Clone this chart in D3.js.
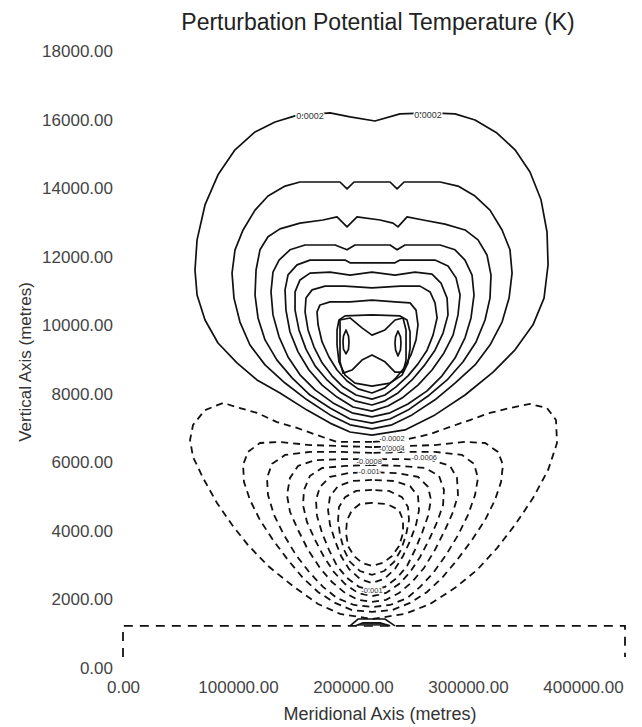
<!DOCTYPE html>
<html>
<head>
	<script src="https://d3js.org/d3.v7.min.js"></script>
	<style>
		body { margin: 0; background: #fff; }
	</style>
</head>
<body>
<script type="text/javascript">

	// tick values (metres)
	var xTicks = [0, 100000, 200000, 300000, 400000];
	var yTicks = [0, 2000, 4000, 6000, 8000, 10000, 12000, 14000, 16000, 18000];

	// positive contours, [meridional km, vertical km], outer to inner
	var positiveContours = [
		[[216.5,6.80],[197.4,6.89],[180.0,7.15],[160.0,7.53],[136.5,8.03],[116.5,8.41],[99.1,8.91],[82.6,9.49],[71.3,10.16],[64.4,10.89],[62.6,11.62],[64.4,12.50],[71.3,13.52],[82.6,14.40],[97.4,15.13],[114.8,15.65],[132.2,15.94],[149.6,16.12],[180.0,16.21],[197.4,16.09],[219.1,15.97],[240.9,16.18],[267.0,16.21],[288.7,16.18],[306.1,16.00],[325.2,15.62],[340.9,15.13],[353.9,14.48],[363.5,13.67],[368.7,12.73],[369.6,11.77],[366.1,10.80],[356.5,10.02],[340.9,9.29],[321.8,8.64],[297.4,7.97],[271.3,7.39],[245.2,6.95]],
		[[216.5,6.98],[197.4,7.10],[180.0,7.39],[160.0,7.83],[140.9,8.32],[123.5,8.85],[110.4,9.43],[101.7,10.10],[96.5,10.80],[94.8,11.53],[97.4,12.21],[104.4,12.79],[114.8,13.37],[126.1,13.78],[140.9,14.07],[153.9,14.19],[188.7,14.19],[194.8,13.99],[200.9,14.19],[232.2,14.19],[238.3,13.99],[244.4,14.19],[275.7,14.19],[291.3,14.07],[306.1,13.78],[319.1,13.37],[329.6,12.79],[336.5,12.21],[338.3,11.53],[335.7,10.80],[329.6,10.10],[319.1,9.43],[306.1,8.85],[288.7,8.32],[271.3,7.83],[251.3,7.39],[233.9,7.10]],
		[[216.5,7.15],[197.4,7.27],[180.0,7.59],[162.6,7.97],[147.0,8.47],[133.9,8.99],[123.5,9.58],[117.4,10.22],[114.8,10.89],[115.7,11.62],[119.1,12.21],[126.1,12.59],[136.5,12.82],[153.9,12.99],[173.9,13.08],[186.1,13.17],[194.8,12.88],[203.5,13.17],[223.5,13.08],[234.8,12.99],[239.1,12.88],[247.0,13.17],[260.9,13.08],[280.0,12.96],[297.4,12.79],[308.7,12.50],[316.5,12.06],[320.0,11.47],[319.1,10.80],[314.8,10.16],[307.0,9.52],[295.7,8.94],[281.8,8.41],[265.2,7.94],[247.8,7.53],[232.2,7.27]],
		[[216.5,7.33],[199.1,7.45],[182.6,7.74],[167.0,8.12],[153.9,8.56],[143.5,9.08],[135.7,9.67],[130.4,10.31],[128.7,10.98],[130.4,11.56],[135.7,11.91],[145.2,12.21],[158.3,12.35],[184.4,12.35],[194.8,12.21],[201.7,12.35],[232.2,12.35],[238.3,12.21],[245.2,12.35],[275.7,12.35],[288.7,12.21],[297.4,11.91],[303.5,11.47],[305.2,10.89],[302.6,10.22],[297.4,9.64],[288.7,9.05],[277.4,8.53],[264.4,8.09],[247.8,7.71],[232.2,7.45]],
		[[216.5,7.50],[200.0,7.62],[186.1,7.91],[173.1,8.26],[161.7,8.70],[152.2,9.23],[145.2,9.81],[141.7,10.45],[140.9,11.04],[143.5,11.48],[151.3,11.77],[162.6,11.91],[193.1,11.91],[197.4,11.83],[236.5,11.83],[240.9,11.91],[271.3,11.91],[282.6,11.74],[289.6,11.39],[293.1,10.89],[291.3,10.31],[287.0,9.72],[279.1,9.20],[268.7,8.70],[256.5,8.26],[242.6,7.88],[230.4,7.65]],
		[[216.5,7.68],[201.7,7.80],[188.7,8.06],[177.4,8.41],[167.0,8.82],[159.1,9.31],[153.0,9.87],[149.6,10.45],[149.6,10.98],[153.9,11.33],[162.6,11.53],[180.0,11.56],[197.4,11.47],[216.5,11.56],[236.5,11.47],[253.9,11.56],[268.7,11.50],[276.5,11.24],[281.8,10.80],[282.6,10.31],[278.3,9.78],[271.3,9.28],[261.7,8.82],[251.3,8.41],[239.1,8.03],[227.8,7.80]],
		[[216.5,7.85],[202.6,7.97],[191.3,8.21],[181.7,8.53],[173.1,8.91],[166.1,9.37],[160.9,9.87],[158.3,10.40],[159.1,10.80],[164.4,11.04],[175.7,11.15],[193.1,11.15],[216.5,11.10],[240.9,11.15],[258.3,11.15],[267.0,10.98],[271.3,10.66],[273.1,10.22],[269.6,9.72],[264.4,9.28],[256.5,8.88],[247.8,8.53],[237.4,8.21],[227.8,7.97]],
		[[216.5,8.03],[204.4,8.15],[194.8,8.38],[186.1,8.70],[179.1,9.08],[173.1,9.52],[169.6,10.02],[168.7,10.40],[171.3,10.60],[180.0,10.69],[197.4,10.69],[216.5,10.74],[236.5,10.69],[249.6,10.66],[254.8,10.45],[256.5,10.02],[254.8,9.58],[250.4,9.14],[244.4,8.76],[236.5,8.44],[227.8,8.18]],
		[[216.5,8.23],[201.7,8.32],[193.1,8.55],[187.8,8.94],[186.1,9.43],[186.1,9.87],[187.8,10.16],[193.1,10.28],[216.5,10.31],[240.9,10.28],[247.0,10.16],[249.6,9.81],[249.6,9.34],[247.8,8.91],[242.6,8.55],[232.2,8.32]],
		[[188.7,10.16],[197.4,10.22],[207.8,9.93],[216.5,9.72],[227.8,9.87],[236.5,10.16],[243.5,10.22],[246.1,9.87],[246.1,8.99],[243.5,8.64],[236.5,8.64],[227.8,8.94],[216.5,9.14],[207.8,8.99],[199.1,8.70],[191.3,8.61],[188.7,8.94],[188.7,9.87]],
		[[193.9,9.87],[196.1,9.69],[196.5,9.52],[196.1,9.31],[193.9,9.17],[191.7,9.31],[191.3,9.52],[191.7,9.69]],
		[[239.1,9.84],[241.3,9.67],[241.7,9.49],[241.3,9.29],[239.1,9.11],[237.0,9.29],[236.5,9.49],[237.0,9.67]]
	];

	// negative contours (dashed), outer to inner
	var negativeContours = [
		[[216.5,6.60],[186.1,6.60],[168.7,6.80],[151.3,7.01],[133.9,7.18],[116.5,7.45],[101.7,7.59],[87.0,7.74],[71.3,7.53],[60.9,7.10],[58.3,6.66],[60.9,6.16],[69.6,5.55],[81.7,4.82],[94.8,4.18],[108.7,3.59],[126.1,2.98],[147.8,2.39],[169.6,1.87],[188.7,1.58],[216.5,1.43],[245.2,1.58],[267.0,1.87],[288.7,2.34],[307.8,2.86],[325.2,3.50],[340.9,4.18],[356.5,4.96],[369.6,5.78],[377.4,6.57],[376.5,7.24],[368.7,7.59],[353.9,7.71],[336.5,7.59],[319.1,7.45],[301.7,7.24],[284.4,7.04],[267.0,6.83],[245.2,6.66]],
		[[216.5,6.45],[188.7,6.48],[162.6,6.51],[136.5,6.60],[119.1,6.57],[108.7,6.31],[104.4,5.93],[105.2,5.43],[110.4,4.91],[119.1,4.32],[130.4,3.74],[143.5,3.15],[156.5,2.63],[169.6,2.22],[184.4,1.90],[199.1,1.69],[216.5,1.64],[233.9,1.69],[249.6,1.90],[264.4,2.22],[277.4,2.63],[290.4,3.15],[303.5,3.74],[314.8,4.32],[323.5,4.91],[328.7,5.43],[330.4,5.93],[326.1,6.31],[314.8,6.57],[297.4,6.60],[271.3,6.51],[245.2,6.48]],
		[[216.5,6.28],[188.7,6.31],[162.6,6.31],[140.9,6.22],[129.6,5.96],[125.2,5.55],[126.1,5.05],[131.3,4.47],[140.0,3.88],[150.4,3.30],[162.6,2.77],[173.9,2.37],[186.1,2.04],[200.9,1.84],[216.5,1.78],[232.2,1.84],[247.0,2.04],[258.3,2.37],[269.6,2.77],[280.9,3.30],[291.3,3.88],[300.0,4.47],[306.1,5.05],[308.7,5.55],[305.2,5.96],[294.8,6.22],[271.3,6.31],[245.2,6.31]],
		[[216.5,6.10],[193.1,6.10],[167.0,6.07],[152.2,5.90],[145.2,5.55],[142.6,5.05],[145.2,4.56],[152.2,4.03],[160.9,3.45],[171.3,2.92],[181.7,2.51],[193.1,2.19],[204.4,1.99],[216.5,1.93],[228.7,1.99],[240.0,2.19],[251.3,2.51],[261.7,2.92],[271.3,3.45],[280.0,4.03],[287.0,4.56],[291.3,5.05],[290.4,5.55],[284.4,5.90],[268.7,6.07],[240.9,6.10]],
		[[216.5,5.93],[193.1,5.90],[173.1,5.84],[162.6,5.61],[157.4,5.20],[156.5,4.76],[160.0,4.26],[167.0,3.74],[174.8,3.24],[183.5,2.80],[193.1,2.45],[204.4,2.19],[216.5,2.10],[228.7,2.19],[240.0,2.45],[249.6,2.80],[258.3,3.24],[266.1,3.74],[273.1,4.26],[278.3,4.76],[279.1,5.20],[274.8,5.61],[262.6,5.84],[240.9,5.90]],
		[[216.5,5.72],[195.7,5.69],[180.0,5.58],[171.3,5.29],[167.8,4.91],[168.7,4.44],[173.1,3.94],[179.1,3.45],[186.1,2.98],[194.8,2.63],[205.2,2.37],[216.5,2.28],[227.8,2.37],[238.3,2.63],[247.0,2.98],[253.9,3.45],[260.0,3.94],[265.2,4.44],[267.8,4.91],[265.2,5.29],[256.5,5.58],[239.1,5.69]],
		[[216.5,5.49],[199.1,5.46],[187.0,5.31],[180.0,5.02],[178.3,4.61],[180.0,4.18],[184.4,3.71],[189.6,3.27],[196.5,2.89],[206.1,2.60],[216.5,2.48],[227.0,2.60],[236.5,2.89],[243.5,3.27],[249.6,3.71],[254.8,4.18],[257.4,4.61],[256.5,5.02],[249.6,5.31],[235.7,5.46]],
		[[216.5,5.20],[202.6,5.17],[193.1,4.99],[187.8,4.70],[187.0,4.32],[188.7,3.88],[192.2,3.45],[197.4,3.10],[206.1,2.83],[216.5,2.72],[227.0,2.83],[235.7,3.10],[241.7,3.45],[246.1,3.88],[248.7,4.32],[247.8,4.70],[242.6,4.99],[231.3,5.17]],
		[[216.5,4.82],[206.1,4.79],[199.1,4.61],[194.8,4.32],[193.9,3.94],[195.7,3.56],[200.9,3.27],[207.8,3.07],[216.5,2.98],[226.1,3.07],[233.9,3.27],[240.0,3.56],[243.5,3.94],[243.5,4.32],[240.0,4.61],[229.6,4.79]]
	];

	// contour along the lower boundary and the small hill at the centre
	var groundLine = [[0,0.32],[0,1.23],[436.5,1.23],[436.5,0.32]];
	var hillOuter = [[197.4,1.23],[204.4,1.43],[227.8,1.43],[236.5,1.23]];
	var hillInner = [[201.7,1.23],[208.7,1.32],[223.5,1.32],[232.2,1.23]];

	// contour labels: [km, km, text]
	var contourLabels = [
		[162.6, 16.12, "0.0002"],
		[265.2, 16.15, "0.0002"],
		[233.9, 6.70, "-0.0002"],
		[233.9, 6.41, "-0.0004"],
		[262.0, 6.14, "-0.0006"],
		[214.0, 6.03, "-0.0008"],
		[214.0, 5.74, "-0.001"],
		[216.5, 2.28, "-0.001"]
	];

	var w = 642;
	var h = 727;
	var font = "'Liberation Sans', Arial, sans-serif";

	var svg = d3.select("body")
		.append("svg")
		.attr("width", w)
		.attr("height", h);

	// scales, metres to pixels
	var xScale = d3.scaleLinear()
		.domain([0, 436500])
		.range([123, 625]);

	var yScale = d3.scaleLinear()
		.domain([0, 18000])
		.range([668, 51.5]);

	var path = d3.line()
		.x(function(d) { return xScale(d[0] * 1000); })
		.y(function(d) { return yScale(d[1] * 1000); });

	var loop = d3.line()
		.curve(d3.curveLinearClosed)
		.x(function(d) { return xScale(d[0] * 1000); })
		.y(function(d) { return yScale(d[1] * 1000); });

	// solid contours
	svg.append("g")
		.selectAll("path")
		.data(positiveContours)
		.enter()
		.append("path")
		.attr("d", loop)
		.attr("fill", "none")
		.attr("stroke", "#111")
		.attr("stroke-width", 1.7)
		.attr("stroke-linejoin", "round");

	// dashed contours
	svg.append("g")
		.selectAll("path")
		.data(negativeContours)
		.enter()
		.append("path")
		.attr("d", loop)
		.attr("fill", "none")
		.attr("stroke", "#111")
		.attr("stroke-width", 1.8)
		.attr("stroke-dasharray", "7,5");

	svg.append("path")
		.attr("d", path(groundLine))
		.attr("fill", "none")
		.attr("stroke", "#111")
		.attr("stroke-width", 1.8)
		.attr("stroke-dasharray", "9,7");

	[hillOuter, hillInner].forEach(function(pts, i) {
		svg.append("path")
			.attr("d", path(pts))
			.attr("fill", i ? "#333" : "none")
			.attr("stroke", "#111")
			.attr("stroke-width", 1.6);
	});

	// labels on the lines
	svg.append("g")
		.selectAll("text")
		.data(contourLabels)
		.enter()
		.append("text")
		.attr("x", function(d) { return xScale(d[0] * 1000); })
		.attr("y", function(d) { return yScale(d[1] * 1000); })
		.attr("dy", "0.35em")
		.attr("text-anchor", "middle")
		.attr("font-family", font)
		.attr("font-size", function(d) { return d[2].charAt(0) == "-" ? 7.5 : 9; })
		.attr("fill", "#333")
		.attr("stroke", "#fff")
		.attr("stroke-width", 2.5)
		.attr("paint-order", "stroke")
		.text(function(d) { return d[2]; });

	// axes, labels only
	var fmt = d3.format(".2f");

	var xAxis = svg.append("g")
		.attr("transform", "translate(0,668)")
		.call(d3.axisBottom(xScale).tickValues(xTicks).tickSize(0).tickPadding(13).tickFormat(fmt));

	var yAxis = svg.append("g")
		.attr("transform", "translate(123,0)")
		.call(d3.axisLeft(yScale).tickValues(yTicks).tickSize(0).tickPadding(10).tickFormat(fmt));

	[xAxis, yAxis].forEach(function(g) {
		g.select(".domain").remove();
		g.attr("font-family", font).attr("font-size", 17);
		g.selectAll("text").attr("fill", "#444");
	});

	// titles
	svg.append("text")
		.attr("x", 378)
		.attr("y", 30)
		.attr("text-anchor", "middle")
		.attr("font-family", font)
		.attr("font-size", 23)
		.attr("fill", "#222")
		.text("Perturbation Potential Temperature (K)");

	svg.append("text")
		.attr("x", 380)
		.attr("y", 720)
		.attr("text-anchor", "middle")
		.attr("font-family", font)
		.attr("font-size", 18)
		.attr("fill", "#333")
		.text("Meridional Axis (metres)");

	svg.append("text")
		.attr("transform", "translate(31,362) rotate(-90)")
		.attr("text-anchor", "middle")
		.attr("font-family", font)
		.attr("font-size", 17)
		.attr("fill", "#333")
		.text("Vertical Axis (metres)");

</script>
</body>
</html>
